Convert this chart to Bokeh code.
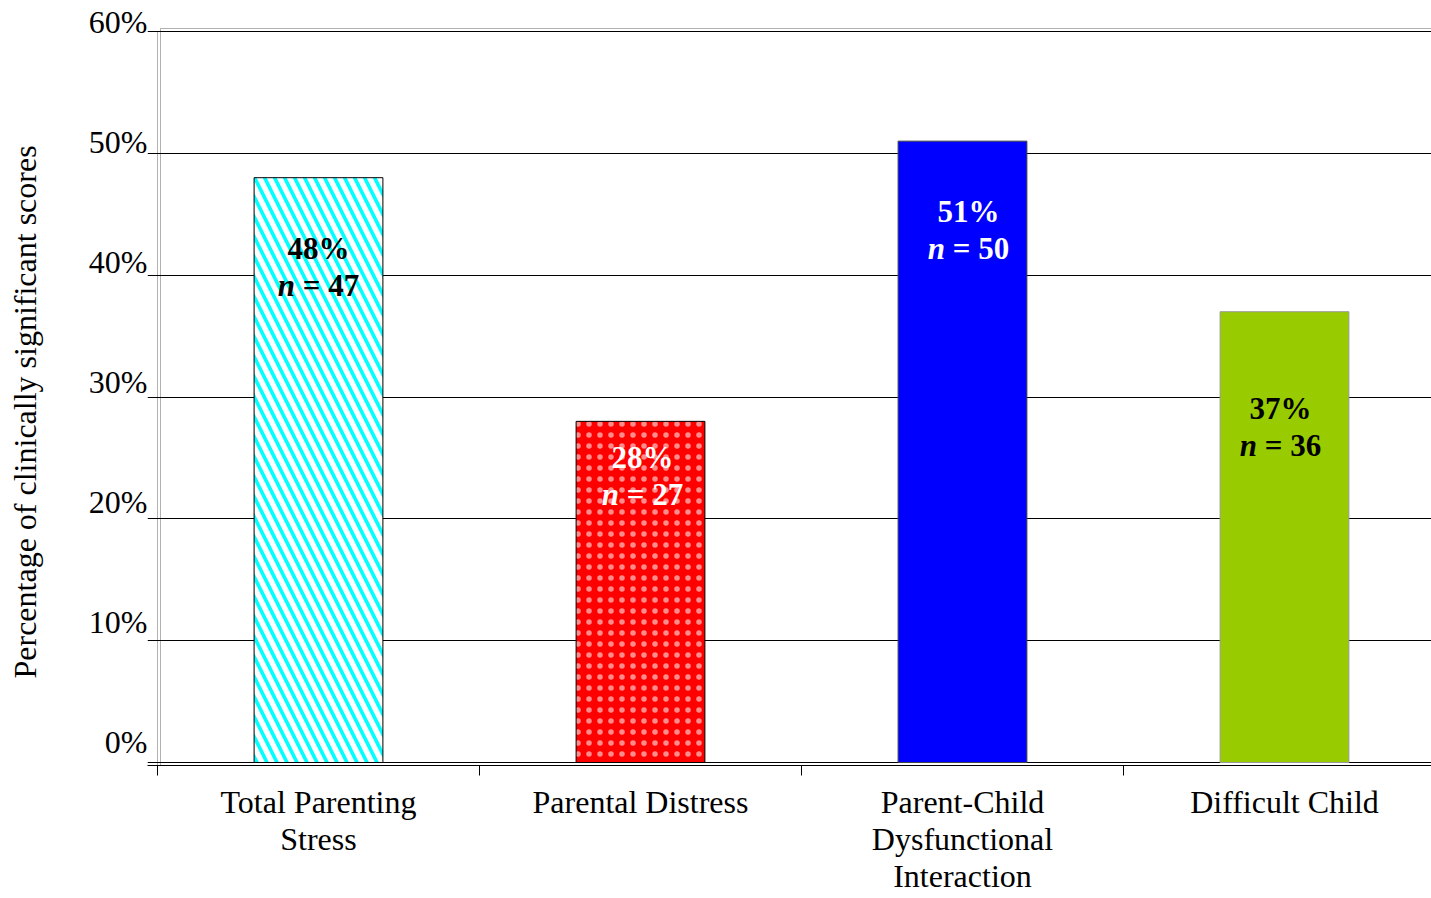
from bokeh.plotting import figure
from bokeh.models import (FixedTicker, Range1d, LinearAxis, BoxAnnotation,
                          Title)
from bokeh.embed import file_html
from bokeh.resources import INLINE

# ---- data -------------------------------------------------------------
categories = [
    "Total Parenting\nStress",
    "Parental Distress",
    "Parent-Child\nDysfunctional\nInteraction",
    "Difficult Child",
]
percentages = [48, 28, 51, 37]
counts = [47, 27, 50, 36]
y_ticks = [0, 10, 20, 30, 40, 50, 60]
y_tick_labels = ["0%", "10%", "20%", "30%", "40%", "50%", "60%"]

# ---- styling ----------------------------------------------------------
FONT = "Liberation Serif"
W, H = 1431, 898
LEFT, TOP, BOTTOM = 147, 12, 133
CAT_PX = 322                    # pixel width of one category slot
PX_PER_UNIT = 731 / 60          # vertical pixels per percentage point
BAR_WIDTH = 0.4
TICK_STUB = 10                  # gridlines reach this far left of the axis
FRAME_GAP = 3                   # offset of the outer frame line (px)

# tick labels are set slightly above their gridlines
LABEL_PX_PER_UNIT = 12.0
LABEL_ZERO_RAISE = 24           # px between frame bottom and the "0%" label

bar_styles = [
    dict(fill_color="white", line_color="black", hatch_pattern="\\",
         hatch_color="#00FFFF", hatch_scale=20, hatch_weight=3.6),
    dict(fill_color="#FF0000", line_color="black", hatch_pattern="dot",
         hatch_color="white", hatch_alpha=0.55, hatch_scale=11),
    dict(fill_color="#0000FF", line_color="#404040"),
    dict(fill_color="#99CC00", line_color="#999999"),
]
label_colors = ["black", "white", "white", "black"]
label_dx = [0, 2, 6, -4]          # horizontal nudge of value labels (px)
label_dy = [71, 36, 70, 97]       # distance of value label below bar top (px)
LINE_GAP = 37
VAL_FS = 31

frame_w = W - LEFT
frame_h = H - TOP - BOTTOM
x_lo = -TICK_STUB / CAT_PX
x_hi = x_lo + frame_w / CAT_PX
y_lo = -FRAME_GAP / PX_PER_UNIT
y_hi = y_lo + frame_h / PX_PER_UNIT

p = figure(
    width=W, height=H,
    x_range=Range1d(x_lo, x_hi),
    y_range=Range1d(y_lo, y_hi),
    y_axis_location=None,
    output_backend="svg", toolbar_location=None,
    min_border_left=LEFT, min_border_right=0,
    min_border_top=TOP, min_border_bottom=BOTTOM,
    background_fill_color="white", border_fill_color="white",
    outline_line_color=None,
)

centers = [i + 0.5 for i in range(len(categories))]
bounds = list(range(len(categories)))

# grid (runs slightly past the value axis, like tick stubs)
p.xgrid.visible = False
p.ygrid.ticker = FixedTicker(ticks=y_ticks)
p.ygrid.grid_line_color = "black"
p.ygrid.grid_line_width = 1

# bars
for i, (xc, v) in enumerate(zip(centers, percentages)):
    p.vbar(x=[xc], top=[v], bottom=0, width=BAR_WIDTH, line_width=1,
           **bar_styles[i])

# value labels inside the bars
for i, (xc, v, n) in enumerate(zip(centers, percentages, counts)):
    common = dict(text_font=FONT, text_font_size=f"{VAL_FS}px",
                  text_color=label_colors[i], text_baseline="middle")
    p.text(x=[xc], y=[v], text=[f"{v}%"], x_offset=label_dx[i],
           y_offset=label_dy[i], text_align="center",
           text_font_style="bold", **common)
    p.text(x=[xc], y=[v], text=["n"], x_offset=label_dx[i] - 0.757 * VAL_FS,
           y_offset=label_dy[i] + LINE_GAP, text_align="right",
           text_font_style="bold italic", **common)
    p.text(x=[xc], y=[v], text=[f"= {n}"],
           x_offset=label_dx[i] - 0.507 * VAL_FS,
           y_offset=label_dy[i] + LINE_GAP, text_align="left",
           text_font_style="bold", **common)

# value axis tick labels
lab_lo = -LABEL_ZERO_RAISE / LABEL_PX_PER_UNIT
p.extra_y_ranges = {"tick_labels": Range1d(lab_lo, lab_lo + frame_h / LABEL_PX_PER_UNIT)}
ya = LinearAxis(y_range_name="tick_labels")
ya.ticker = FixedTicker(ticks=y_ticks, minor_ticks=[])
ya.major_label_overrides = {t: s for t, s in zip(y_ticks, y_tick_labels)}
ya.axis_line_color = None
ya.major_tick_line_color = None
ya.minor_tick_line_color = None
ya.major_tick_out = 0
ya.major_tick_in = 0
ya.major_label_standoff = 0
ya.major_label_text_font = FONT
ya.major_label_text_font_size = "32px"
ya.major_label_text_color = "black"
p.add_layout(ya, "left")

# value axis title; the blank second line keeps it well clear of the tick labels
p.add_layout(Title(text="Percentage of clinically significant scores\n ",
                   text_font=FONT, text_font_size="32px",
                   text_font_style="normal", text_color="black",
                   text_line_height=1.1,
                   align="left", vertical_align="top",
                   offset=87, standoff=2), "left")

# category axis: names at slot centres, tick marks at slot boundaries
xa = p.xaxis[0]
xa.ticker = FixedTicker(ticks=centers, minor_ticks=bounds)
xa.major_label_overrides = {c: s for c, s in zip(centers, categories)}
xa.axis_line_color = "black"
xa.major_tick_line_color = None
xa.major_tick_out = 0
xa.major_tick_in = 0
xa.minor_tick_line_color = "black"
xa.minor_tick_out = 10
xa.minor_tick_in = 0
xa.major_label_standoff = 8
xa.major_label_text_font = FONT
xa.major_label_text_font_size = "32px"
xa.major_label_text_color = "black"
xa.major_label_text_line_height = 1.04

# value axis line plus the offset outer frame line
p.add_layout(BoxAnnotation(left=0, right=x_hi + 1, top=60, bottom=y_lo,
                           fill_color=None, line_color="black", line_width=1))
p.add_layout(BoxAnnotation(left=FRAME_GAP / CAT_PX, right=x_hi + 1,
                           top=60 + FRAME_GAP / PX_PER_UNIT, bottom=y_lo,
                           fill_color=None, line_color="black", line_width=1))

open("out.html", "w").write(file_html(p, INLINE))
